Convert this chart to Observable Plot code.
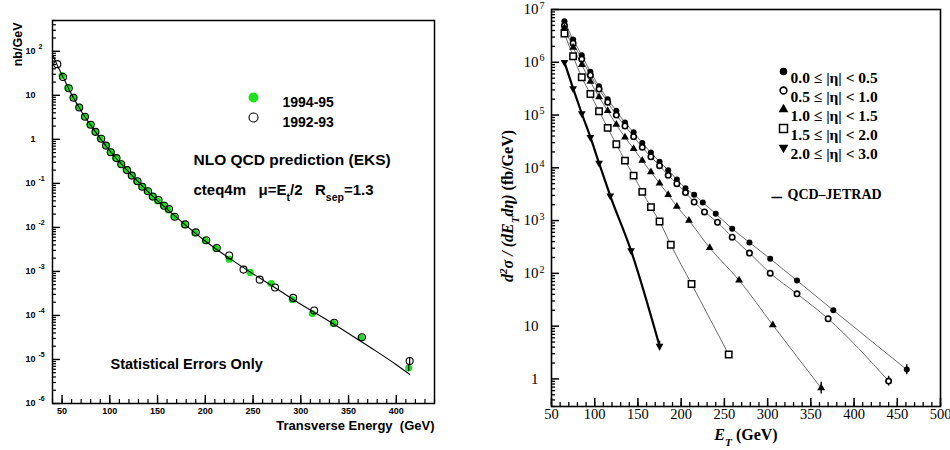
<!DOCTYPE html>
<html><head><meta charset="utf-8">
<script src="https://cdn.jsdelivr.net/npm/d3@7"></script>
<script src="https://cdn.jsdelivr.net/npm/@observablehq/plot@0.6"></script>
<style>
body{margin:0;background:#fff;}
#wrap{position:relative;width:950px;height:450px;overflow:hidden;}
#left{position:absolute;left:0;top:0;}
#right{position:absolute;left:475px;top:0;}
</style></head><body><div id="wrap"><div id="left"></div><div id="right"></div></div>
<script>
// ---------- LEFT PANEL DATA ----------
const etNew = [50,56,62,68,74,79,85,90,96,101,106,112,117,123,128,134,139,145,150,156,161,167,178,189,200,211,225,247,269,291,312,334,363,413];
const xsNew = [28,15,9,5.4,3.3,2.16,1.5,1.05,0.73,0.52,0.38,0.276,0.205,0.152,0.113,0.085,0.067,0.051,0.040,0.032,0.025,0.0178,0.0115,0.0075,0.0050,0.0033,0.0019,0.00095,0.00053,0.00023,0.00011,6.6e-5,3.1e-5,6.4e-6];
const etOld = [45,51,57,62,68,74,80,85,91,96,101,107,112,118,123,129,134,140,145,151,157,162,168,179,190,201,212,225,240,257,273,292,314,335,364,414];
const xsOld = [51,26,14.5,8.8,5.3,3.25,2.15,1.48,1.03,0.72,0.51,0.375,0.272,0.2,0.15,0.112,0.084,0.066,0.05,0.042,0.031,0.026,0.0175,0.0117,0.0077,0.0051,0.0034,0.0023,0.0011,0.00065,0.00043,0.00025,0.00013,6.8e-5,3.2e-5,9.2e-6];
const etNlo = [41,45,50,60,70,80,90,100,120,140,160,180,200,225,250,275,300,325,350,375,400,414];
const xsNlo = [77,48,29,10.5,4.4,2.1,1.05,0.55,0.18,0.065,0.026,0.011,0.0049,0.0020,0.00088,0.00040,0.00018,8.5e-5,3.9e-5,1.75e-5,7.6e-6,4.6e-6];
const errEtL = [413,414];
const errLoL = [5.3e-6,7.6e-6];
const errHiL = [7.6e-6,1.1e-5];
const xTicksL = [50,100,150,200,250,300,350,400];
const yTicksL = [1e-6,1e-5,1e-4,1e-3,1e-2,1e-1,1,10,100];
const yBaseL = ["10","10","10","10","10","10","1","10","10"];
const yExpL = ["-6","-5","-4","-3","-2","-1","","","2"];
const legendL = ["1994-95","1992-93"];

// ---------- RIGHT PANEL DATA ----------
const etaBins = ["0.0 ≤ |η| < 0.5","0.5 ≤ |η| < 1.0","1.0 ≤ |η| < 1.5","1.5 ≤ |η| < 2.0","2.0 ≤ |η| < 3.0"];
const et1 = [65,75,85,95,105,115,125,135,145,155,165,175,185,195,205,215,225,240,259,279,303,334,376,461];
const xs1 = [6.0e6,2.7e6,1.36e6,6.6e5,3.5e5,2.0e5,1.2e5,7.2e4,4.7e4,2.95e4,1.95e4,1.3e4,9.0e3,6.0e3,4.1e3,3.1e3,2.2e3,1.35e3,700,385,189,73,20,1.5];
const et2 = [65,75,85,95,105,115,125,135,145,155,165,175,185,195,205,215,227,242,259,279,303,334,370,440];
const xs2 = [5.0e6,2.3e6,1.15e6,5.7e5,3.1e5,1.75e5,1.0e5,6.2e4,3.9e4,2.45e4,1.62e4,1.1e4,7.2e3,5.0e3,3.4e3,2.25e3,1.46e3,930,486,242,101,41,13.8,0.91];
const et3 = [65,75,85,95,105,115,125,135,145,155,165,175,185,195,209,233,267,306,362];
const xs3 = [4.5e6,1.9e6,9.0e5,4.3e5,2.2e5,1.2e5,6.6e4,3.8e4,2.3e4,1.37e4,8.3e3,5.1e3,3.1e3,1.85e3,1.0e3,305,74,10.5,0.67];
const et4 = [65,75,85,95,105,115,125,135,145,155,165,175,188,212,255];
const xs4 = [3.5e6,1.3e6,5.2e5,2.5e5,1.18e5,5.7e4,2.8e4,1.37e4,7.1e3,3.5e3,1.8e3,960,348,63,2.9];
const et5 = [65,75,85,95,105,118,142,175];
const xs5 = [1.0e6,3.2e5,1.07e5,3.8e4,1.23e4,2.95e3,270,4.2];
const errBinR = [0,1,2,3,4];
const errEtR = [461,440,362,255,175];
const errLoR = [1.2,0.73,0.52,2.6,3.4];
const errHiR = [1.85,1.12,0.86,3.2,5.2];
const xTicksR = [50,100,150,200,250,300,350,400,450,500];
const yTicksR = [1,10,100,1e3,1e4,1e5,1e6,1e7];
const yBaseR = ["1","10","10","10","10","10","10","10"];
const yExpR = ["","","2","3","4","5","6","7"];

// ---------- helpers ----------
function minorLog(lo, hi) {
  const out = [];
  for (let e = Math.floor(Math.log10(lo)); e <= Math.ceil(Math.log10(hi)); e++)
    for (let m = 2; m <= 9; m++) { const v = m * Math.pow(10, e); if (v >= lo * 0.999 && v <= hi * 1.001) out.push(v); }
  return out;
}
function richify(svg) {
  svg.querySelectorAll("text").forEach(t => {
    const s = t.textContent;
    if (!/[\^_*]\{/.test(s)) return;
    t.textContent = "";
    const re = /([\^_*])\{([^}]*)\}/g;
    let last = 0, m;
    const add = (str, kind) => {
      const ts = document.createElementNS("http://www.w3.org/2000/svg", "tspan");
      let txt = str, ital = kind === "*";
      if (kind !== "*" && txt.startsWith("*")) { ital = true; txt = txt.slice(1); }
      if (kind === "^") { ts.setAttribute("baseline-shift", "super"); ts.setAttribute("font-size", "70%"); }
      if (kind === "_") { ts.setAttribute("baseline-shift", "sub"); ts.setAttribute("font-size", "70%"); }
      if (ital) ts.setAttribute("font-style", "italic");
      ts.textContent = txt;
      t.appendChild(ts);
    };
    while ((m = re.exec(s))) {
      if (m.index > last) add(s.slice(last, m.index), "");
      add(m[2], m[1]);
      last = re.lastIndex;
    }
    if (last < s.length) add(s.slice(last), "");
  });
}
const lookup = (keys, vals) => { const mp = new Map(keys.map((k, i) => [k, vals[i]])); return d => mp.get(d) ?? ""; };

// ---------- LEFT PLOT ----------
const newRows = etNew.map((e, i) => ({et: e, xs: xsNew[i]}));
const oldRows = etOld.map((e, i) => ({et: e, xs: xsOld[i]}));
const nloRows = etNlo.map((e, i) => ({et: e, xs: xsNlo[i]}));
const errRowsL = errEtL.map((e, i) => ({et: e, lo: errLoL[i], hi: errHiL[i]}));
const green = "#1fe01f";
const sansB = {fontFamily: "'Liberation Sans', Arial, sans-serif", fontWeight: "bold"};

const left = Plot.plot({
  width: 475, height: 450,
  marginLeft: 52, marginRight: 41, marginTop: 20, marginBottom: 47,
  style: {background: "white", color: "black", fontFamily: "'Liberation Sans', Arial, sans-serif", fontWeight: "bold"},
  x: {domain: [40, 440]},
  y: {type: "log", domain: [1e-6, 500]},
  marks: [
    Plot.axisX(d3.range(40, 441, 10), {anchor: "bottom", tickSize: -4, fill: "none", label: null, strokeWidth: 1.2}),
    Plot.axisX(xTicksL, {anchor: "bottom", tickSize: -8, fill: "none", label: null, strokeWidth: 1.4}),
    Plot.axisX(xTicksL, {anchor: "bottom", tickSize: 0, tickPadding: 4, label: null, fontSize: 9, fontWeight: "bold", tickFormat: d => String(d)}),
    Plot.axisY(minorLog(1e-6, 500), {anchor: "left", tickSize: -4, fill: "none", label: null, strokeWidth: 1.2}),
    Plot.axisY(yTicksL, {anchor: "left", tickSize: -8, fill: "none", label: null, strokeWidth: 1.4}),
    Plot.axisY(yTicksL, {anchor: "left", tickSize: 0, tickPadding: 17, label: null, fontSize: 9, fontWeight: "bold", tickFormat: lookup(yTicksL, yBaseL)}),
    Plot.axisY(yTicksL, {anchor: "left", tickSize: 0, tickPadding: 14, label: null, fontSize: 7, fontWeight: "bold", textAnchor: "start", dy: -5, tickFormat: lookup(yTicksL, yExpL)}),
    Plot.frame({stroke: "black", strokeWidth: 1.5}),
    Plot.dot(newRows, {x: "et", y: "xs", r: 3.6, fill: green}),
    Plot.dot(oldRows, {x: "et", y: "xs", r: 3.5, stroke: "black", strokeWidth: 1.1, fill: "none"}),
    Plot.ruleX(errRowsL, {x: "et", y1: "lo", y2: "hi", stroke: "black", strokeWidth: 1.2}),
    Plot.line(nloRows, {x: "et", y: "xs", stroke: "black", strokeWidth: 1.1, curve: "monotone-x"}),
    // legend
    Plot.dot([legendL[0]], {frameAnchor: "top-left", dx: 201, dy: 77, r: 5, fill: green}),
    Plot.dot([legendL[1]], {frameAnchor: "top-left", dx: 201, dy: 97, r: 4.5, stroke: "black", strokeWidth: 1.1, fill: "none"}),
    Plot.text([legendL[0]], {frameAnchor: "top-left", dx: 230, dy: 77, text: d => d, textAnchor: "start", fontSize: 14, ...sansB}),
    Plot.text([legendL[1]], {frameAnchor: "top-left", dx: 230, dy: 97, text: d => d, textAnchor: "start", fontSize: 14, ...sansB}),
    Plot.text(["NLO QCD prediction (EKS)"], {frameAnchor: "top-left", dx: 141, dy: 133, text: d => d, textAnchor: "start", fontSize: 15.5, ...sansB}),
    Plot.text(["cteq4m\u00a0\u00a0\u00a0μ=E_{t}/2\u00a0\u00a0\u00a0R_{sep}=1.3"], {frameAnchor: "top-left", dx: 141, dy: 164, text: d => d, textAnchor: "start", fontSize: 15, ...sansB}),
    Plot.text(["Statistical Errors Only"], {frameAnchor: "top-left", dx: 58, dy: 338, text: d => d, textAnchor: "start", fontSize: 14.5, ...sansB}),
    Plot.text(["Transverse Energy\u00a0\u00a0(GeV)"], {frameAnchor: "bottom-right", dy: 26, text: d => d, textAnchor: "end", fontSize: 13, ...sansB}),
    Plot.text(["nb/GeV"], {frameAnchor: "top-left", dx: -39, dy: 2, rotate: -90, text: d => d, textAnchor: "end", fontSize: 12.5, ...sansB})
  ]
});
richify(left);
document.getElementById("left").appendChild(left);

// ---------- RIGHT PLOT ----------
const etsR = [et1, et2, et3, et4, et5];
const xssR = [xs1, xs2, xs3, xs4, xs5];
const rowsR = etsR.flatMap((es, k) => es.map((e, i) => ({bin: k, et: e, xs: xssR[k][i]})));
const errRowsR = errEtR.map((e, i) => ({bin: errBinR[i], et: e, lo: errLoR[i], hi: errHiR[i]}));
const triDown = {
  draw(ctx, size) {
    const y = Math.sqrt(size / (Math.sqrt(3) * 3));
    ctx.moveTo(0, y * 2);
    ctx.lineTo(-Math.sqrt(3) * y, -y);
    ctx.lineTo(Math.sqrt(3) * y, -y);
    ctx.closePath();
  }
};
const symStyle = [
  {symbol: "circle", r: 3, fill: "black"},
  {symbol: "circle", r: 2.7, fill: "white", stroke: "black", strokeWidth: 1.6},
  {symbol: "triangle", r: 2.9, fill: "black"},
  {symbol: "square", r: 3.6, fill: "white", stroke: "black", strokeWidth: 1.5},
  {symbol: triDown, r: 2.9, fill: "black"}
];
const serif = {fontFamily: "'Liberation Serif', 'Times New Roman', serif"};
const legendDy = [62, 81, 100, 119, 138];

const right = Plot.plot({
  width: 475, height: 450,
  marginLeft: 76, marginRight: 10, marginTop: 9, marginBottom: 44,
  style: {background: "white", color: "black", fontFamily: "'Liberation Serif', 'Times New Roman', serif"},
  x: {domain: [50, 500]},
  y: {type: "log", domain: [0.3, 1e7]},
  marks: [
    Plot.axisX(d3.range(50, 501, 10), {anchor: "bottom", tickSize: -4, fill: "none", label: null, strokeWidth: 1.3}),
    Plot.axisX(xTicksR, {anchor: "bottom", tickSize: -8, fill: "none", label: null, strokeWidth: 1.5}),
    Plot.axisX(xTicksR, {anchor: "bottom", tickSize: 0, tickPadding: 2, label: null, fontSize: 14.5, tickFormat: d => String(d)}),
    Plot.axisY(minorLog(0.3, 1e7), {anchor: "left", tickSize: -4, fill: "none", label: null, strokeWidth: 1.3}),
    Plot.axisY(yTicksR, {anchor: "left", tickSize: -8, fill: "none", label: null, strokeWidth: 1.5}),
    Plot.axisY(yTicksR, {anchor: "left", tickSize: 0, tickPadding: 13, label: null, fontSize: 15, tickFormat: lookup(yTicksR, yBaseR)}),
    Plot.axisY(yTicksR, {anchor: "left", tickSize: 0, tickPadding: 12, label: null, fontSize: 10, textAnchor: "start", dy: -4, tickFormat: lookup(yTicksR, yExpR)}),
    Plot.frame({stroke: "black", strokeWidth: 1.6}),
    Plot.line(rowsR.filter(d => d.bin < 4), {x: "et", y: "xs", z: "bin", stroke: "#6b6b6b", strokeWidth: 1, curve: "monotone-x"}),
    Plot.line(rowsR.filter(d => d.bin === 4), {x: "et", y: "xs", stroke: "black", strokeWidth: 2.2, curve: "monotone-x"}),
    Plot.ruleX(errRowsR, {x: "et", y1: "lo", y2: "hi", stroke: "black", strokeWidth: 1.4}),
    ...symStyle.map((s, k) => Plot.dot(rowsR.filter(d => d.bin === k), {x: "et", y: "xs", ...s})),
    // legend
    ...symStyle.map((s, k) => Plot.dot([etaBins[k]], {frameAnchor: "top-left", dx: 232, dy: legendDy[k], ...s, r: s.r * 1.25})),
    ...etaBins.map((b, k) => Plot.text([b], {frameAnchor: "top-left", dx: 239, dy: legendDy[k], text: d => d, textAnchor: "start", fontSize: 15.5, fontWeight: "bold", ...serif})),
    Plot.text(["–"], {frameAnchor: "top-left", dx: 220, dy: 179, text: d => d, textAnchor: "start", fontSize: 21, fontWeight: "bold", ...serif}),
    Plot.text(["QCD–JETRAD"], {frameAnchor: "top-left", dx: 236, dy: 180, text: d => d, textAnchor: "start", fontSize: 14, fontWeight: "bold", ...serif}),
    Plot.text(["*{E}_{*T} (GeV)"], {frameAnchor: "bottom", dy: 33, text: d => d, textAnchor: "middle", fontSize: 16, fontWeight: "bold", ...serif}),
    Plot.text(["*{d}^{*2}*{σ / (dE}_{*T}*{dη)} (fb/GeV)"], {frameAnchor: "left", dx: -44, dy: -2, rotate: -90, text: d => d, textAnchor: "middle", fontSize: 16, fontWeight: "bold", ...serif})
  ]
});
richify(right);
document.getElementById("right").appendChild(right);
</script>
</body></html>
